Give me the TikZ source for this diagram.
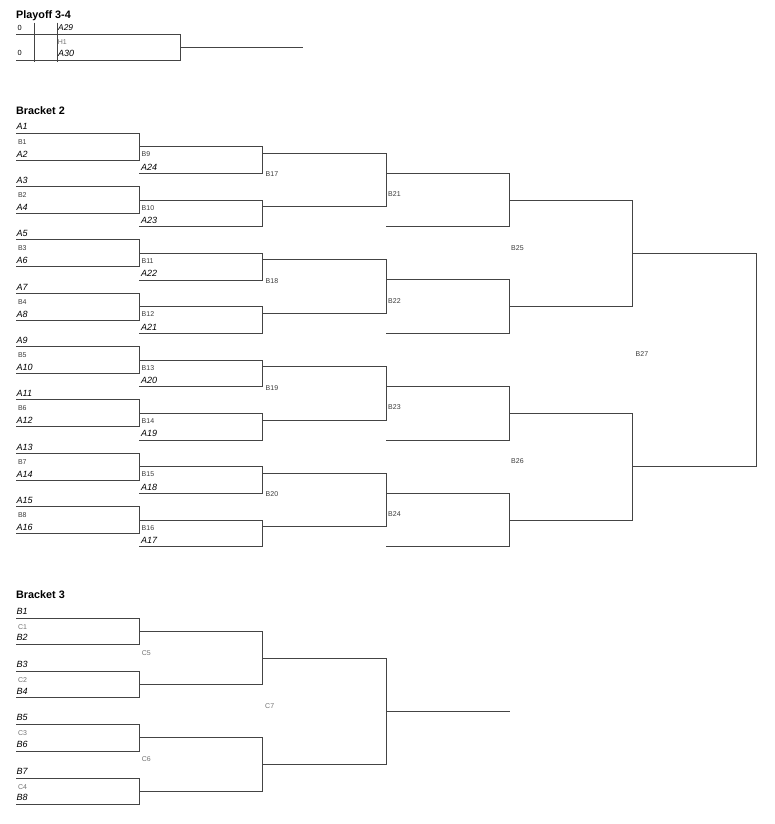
\documentclass[tikz,border=0pt]{standalone}
\usepackage{fontspec}
\setmainfont{Liberation Sans}
\usetikzlibrary{calc}
\definecolor{linegray}{HTML}{444444}
\definecolor{idgray}{HTML}{3A3A3A}
\definecolor{cgray}{HTML}{727272}
\tikzset{
    bline/.style={
           draw=linegray,
           line width=1pt},
    team/.style={
           inner sep=0pt,
           anchor=base west,
           font=\fontsize{9}{9}\selectfont\itshape},
    matchid/.style={
           inner sep=0pt,
           anchor=base west,
           text=idgray,
           font=\fontsize{7}{7}\selectfont},
    heading/.style={
           inner sep=0pt,
           anchor=base west,
           font=\fontsize{10.8}{11}\selectfont\bfseries}
}
% one match: name, left x, right x, top y, bottom y
\newcommand{\matchbox}[5]{%
    \coordinate (#1nw) at (#2,#4);
    \coordinate (#1se) at (#3,#5);
    \draw[bline] (#1nw) -| (#1se) -- (#1se -| #1nw);
}

\begin{document}
\begin{tikzpicture}[x=1pt, y=-1pt]
    \useasboundingbox (0,0) rectangle (775,824);

    % Playoff 3-4
    \node[heading] (hplay) at (16,18.3) {Playoff 3-4};
    \matchbox{h1}{16}{180.7}{35}{61}
    \coordinate (h1sa) at (34.7,22.7);
    \coordinate (h1sb) at (57.3,22.7);
    \draw[bline] (h1sa) -- (h1sa |- 0,62);
    \draw[bline] (h1sb) -- (h1sb |- 0,62);
    \coordinate (h1out) at (303,47.3);
    \draw[bline] (h1out -| h1se) -- (h1out);
    \node[matchid, text=black, font=\fontsize{7.4}{8}\selectfont] (s29) at (17.3,31) {0};
    \node[team, font=\fontsize{8.4}{9}\selectfont\itshape] (p29) at (58,31) {A29};
    \node[matchid, text=cgray] (idH1) at (57.6,45) {H1};
    \node[matchid, text=black, font=\fontsize{7.4}{8}\selectfont] (s30) at (17.3,56) {0};
    \node[team] (p30) at (58,56.7) {A30};

    % Bracket 2
    \node[heading] (hb2) at (16,115) {Bracket 2};
    \foreach \k in {0,...,7}{
        \pgfmathsetmacro\t{133.3+53.333*\k}
        \pgfmathtruncatemacro\i{\k+1}
        \pgfmathtruncatemacro\ta{2*\k+1}
        \pgfmathtruncatemacro\tb{2*\k+2}
        \matchbox{B\i}{16}{139}{\t}{\t+26.7}
        \node[team] (b2t\ta) at (16.5,\t-3.3) {A\ta};
        \node[matchid] (idB\i) at (17.8,\t+11) {B\i};
        \node[team] (b2t\tb) at (16.5,\t+24) {A\tb};
    }
    \foreach \k in {0,...,7}{
        \pgfmathsetmacro\t{146.7+53.333*\k}
        \pgfmathtruncatemacro\i{\k+9}
        \pgfmathtruncatemacro\ta{24-\k}
        \matchbox{B\i}{139}{262.7}{\t}{\t+26.7}
        \node[matchid] (idB\i) at (141.5,\t+10) {B\i};
        \node[team] (b2t\ta) at (140.8,\t+23.3) {A\ta};
    }
    \foreach \k in {0,...,3}{
        \pgfmathsetmacro\t{153.3+106.667*\k}
        \pgfmathtruncatemacro\i{\k+17}
        \matchbox{B\i}{262.7}{386}{\t}{\t+53.4}
        \node[matchid] (idB\i) at (265.5,\t+23.4) {B\i};
    }
    \foreach \k in {0,...,3}{
        \pgfmathsetmacro\t{173.3+106.667*\k}
        \pgfmathtruncatemacro\i{\k+21}
        \matchbox{B\i}{386}{509.3}{\t}{\t+53.4}
        \node[matchid] (idB\i) at (388,\t+23.2) {B\i};
    }
    \foreach \k in {0,1}{
        \pgfmathsetmacro\t{200+213.333*\k}
        \pgfmathtruncatemacro\i{\k+25}
        \matchbox{B\i}{509.3}{632}{\t}{\t+106.7}
        \node[matchid] (idB\i) at (511,\t+50.5) {B\i};
    }
    \matchbox{B27}{632}{756}{253.3}{466.7}
    \node[matchid] (idB27) at (635.5,356.5) {B27};

    % Bracket 3
    \node[heading] (hb3) at (16,598.3) {Bracket 3};
    \foreach \k in {0,...,3}{
        \pgfmathsetmacro\t{618.3+53.333*\k}
        \pgfmathtruncatemacro\i{\k+1}
        \pgfmathtruncatemacro\ta{2*\k+1}
        \pgfmathtruncatemacro\tb{2*\k+2}
        \matchbox{C\i}{16}{139}{\t}{\t+26.3}
        \node[team] (b3t\ta) at (16.5,\t-4) {B\ta};
        \node[matchid, text=cgray] (idC\i) at (17.8,\t+10.7) {C\i};
        \node[team] (b3t\tb) at (16.5,\t+22.6) {B\tb};
    }
    \foreach \k in {0,1}{
        \pgfmathsetmacro\t{631.6+106.333*\k}
        \pgfmathtruncatemacro\i{\k+5}
        \matchbox{C\i}{139}{262.7}{\t}{\t+53.2}
        \node[matchid, text=cgray] (idC\i) at (141.7,\t+24) {C\i};
    }
    \matchbox{C7}{262.7}{386.7}{658.3}{764.3}
    \node[matchid, text=cgray] (idC7) at (265,708.7) {C7};
    \coordinate (c7out) at (510,711);
    \draw[bline] (c7out -| C7se) -- (c7out);
\end{tikzpicture}
\end{document}
